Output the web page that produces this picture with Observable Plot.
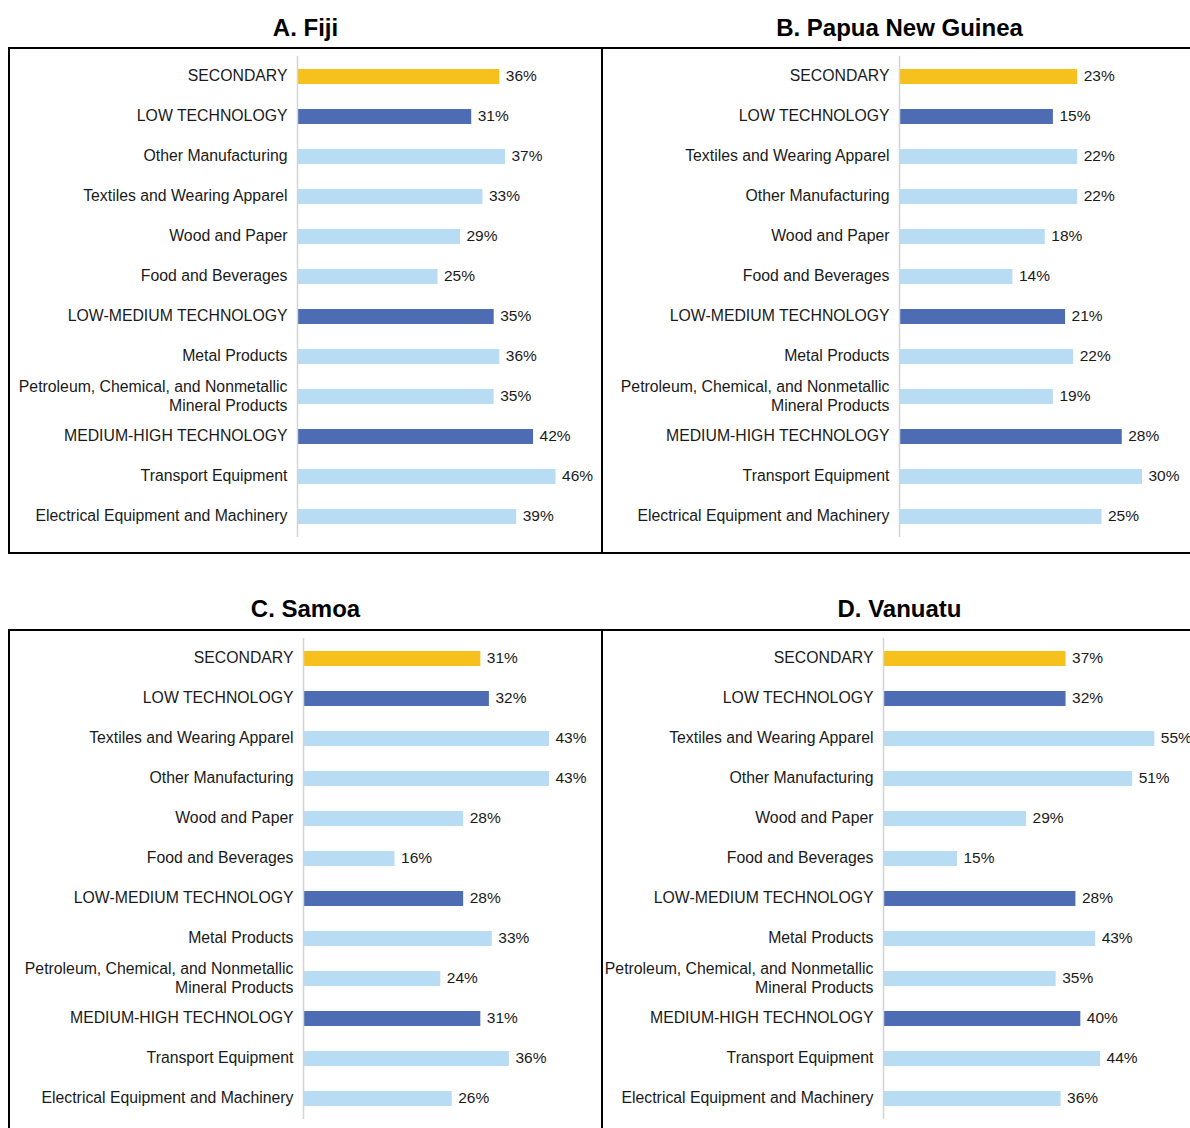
<!DOCTYPE html>
<html>
<head>
<meta charset="utf-8">
<script src="https://cdn.jsdelivr.net/npm/d3@7"></script>
<script src="https://cdn.jsdelivr.net/npm/@observablehq/plot@0.6"></script>
<style>
  html, body { margin: 0; padding: 0; background: #fff; overflow: hidden; }
  #root { position: relative; width: 1190px; height: 1128px; overflow: hidden; background: #fff;
          font-family: "Liberation Sans", Arial, sans-serif; }
  .title { position: absolute; text-align: center; font-weight: bold; font-size: 24px; line-height: 24px; color: #000; }
  .panel { position: absolute; }
  .panel svg { position: absolute; left: 0; top: 0; }
  .frame { position: absolute; left: 0; top: 0; right: 0; bottom: 0; border: 2.5px solid #000; box-sizing: border-box; pointer-events: none; }
</style>
</head>
<body>
<div id="root"></div>
<script>
// ---------- data ----------
const fijiCategories = ["SECONDARY", "LOW TECHNOLOGY", "Other Manufacturing", "Textiles and Wearing Apparel",
  "Wood and Paper", "Food and Beverages", "LOW-MEDIUM TECHNOLOGY", "Metal Products",
  "Petroleum, Chemical, and Nonmetallic\nMineral Products", "MEDIUM-HIGH TECHNOLOGY",
  "Transport Equipment", "Electrical Equipment and Machinery"];
const fijiLabels = [36, 31, 37, 33, 29, 25, 35, 36, 35, 42, 46, 39];
const fijiBars   = [36, 31, 37, 33, 29, 25, 35, 36, 35, 42, 46, 39];

const pngCategories = ["SECONDARY", "LOW TECHNOLOGY", "Textiles and Wearing Apparel", "Other Manufacturing",
  "Wood and Paper", "Food and Beverages", "LOW-MEDIUM TECHNOLOGY", "Metal Products",
  "Petroleum, Chemical, and Nonmetallic\nMineral Products", "MEDIUM-HIGH TECHNOLOGY",
  "Transport Equipment", "Electrical Equipment and Machinery"];
const pngLabels = [23, 15, 22, 22, 18, 14, 21, 22, 19, 28, 30, 25];
const pngBars   = [22, 19, 22, 22, 18, 14, 20.5, 21.5, 19, 27.5, 30, 25];

const samoaCategories = ["SECONDARY", "LOW TECHNOLOGY", "Textiles and Wearing Apparel", "Other Manufacturing",
  "Wood and Paper", "Food and Beverages", "LOW-MEDIUM TECHNOLOGY", "Metal Products",
  "Petroleum, Chemical, and Nonmetallic\nMineral Products", "MEDIUM-HIGH TECHNOLOGY",
  "Transport Equipment", "Electrical Equipment and Machinery"];
const samoaLabels = [31, 32, 43, 43, 28, 16, 28, 33, 24, 31, 36, 26];
const samoaBars   = [31, 32.5, 43, 43, 28, 16, 28, 33, 24, 31, 36, 26];

const vanuatuCategories = ["SECONDARY", "LOW TECHNOLOGY", "Textiles and Wearing Apparel", "Other Manufacturing",
  "Wood and Paper", "Food and Beverages", "LOW-MEDIUM TECHNOLOGY", "Metal Products",
  "Petroleum, Chemical, and Nonmetallic\nMineral Products", "MEDIUM-HIGH TECHNOLOGY",
  "Transport Equipment", "Electrical Equipment and Machinery"];
const vanuatuLabels = [37, 32, 55, 51, 29, 15, 28, 43, 35, 40, 44, 36];
const vanuatuBars   = [37, 37, 55, 50.5, 29, 15, 39, 43, 35, 40, 44, 36];

const titles = ["A. Fiji", "B. Papua New Guinea", "C. Samoa", "D. Vanuatu"];
const kindDomain = ["secondary", "group", "industry"];
const kindColors = ["#F6C11C", "#4D6CB4", "#B8DCF4"];

// ---------- drawing ----------
function kindOf(c) {
  if (c === "SECONDARY") return "secondary";
  if (c.includes("TECHNOLOGY")) return "group";
  return "industry";
}

function panelPlot({cats, labels, bars, width, height, marginLeft, marginRight, max}) {
  const rows = cats.map((c, i) => ({cat: c, label: labels[i], bar: bars[i], kind: kindOf(c)}));
  return Plot.plot({
    width, height, marginLeft, marginRight, marginTop: 9, marginBottom: 17,
    x: {domain: [0, max], axis: null},
    y: {domain: cats, axis: null, paddingInner: 0.63, paddingOuter: 0.315},
    color: {domain: kindDomain, range: kindColors},
    style: {fontFamily: "'Liberation Sans', Arial, sans-serif", background: "transparent", overflow: "visible"},
    marks: [
      Plot.barX(rows, {x: "bar", y: "cat", fill: "kind"}),
      Plot.ruleX([0], {stroke: "#d4d4d4", strokeWidth: 1.5}),
      Plot.text(rows, {y: "cat", text: "cat", frameAnchor: "left", textAnchor: "end", dx: -10, dy: -1.8,
        fontSize: 15.8, lineHeight: 1.2, fill: "#1a1a1a"}),
      Plot.text(rows, {x: "bar", y: "cat", text: d => d.label + "%", textAnchor: "start", dx: 6, dy: -1,
        fontSize: 15.5, fill: "#1a1a1a"})
    ]
  });
}

const root = document.getElementById("root");
const panels = [
  {title: titles[0], left: 8, top: 47, w: 595, h: 507, titleTop: 16,
   cats: fijiCategories, labels: fijiLabels, bars: fijiBars, marginLeft: 289, marginRight: 25, max: 50},
  {title: titles[1], left: 601, top: 47, w: 597, h: 507, titleTop: 16,
   cats: pngCategories, labels: pngLabels, bars: pngBars, marginLeft: 298, marginRight: 15.5, max: 35},
  {title: titles[2], left: 8, top: 629, w: 595, h: 560, titleTop: 597,
   cats: samoaCategories, labels: samoaLabels, bars: samoaBars, marginLeft: 295, marginRight: 14, max: 50, svgH: 507},
  {title: titles[3], left: 601, top: 629, w: 597, h: 560, titleTop: 597,
   cats: vanuatuCategories, labels: vanuatuLabels, bars: vanuatuBars, marginLeft: 282, marginRight: 19, max: 60, svgH: 507}
];

for (const p of panels) {
  const t = document.createElement("div");
  t.className = "title";
  t.style.left = p.left + "px";
  t.style.width = p.w + "px";
  t.style.top = p.titleTop + "px";
  t.textContent = p.title;
  root.appendChild(t);

  const wrap = document.createElement("div");
  wrap.className = "panel";
  wrap.style.left = p.left + "px";
  wrap.style.top = p.top + "px";
  wrap.style.width = p.w + "px";
  wrap.style.height = p.h + "px";
  const svg = panelPlot({cats: p.cats, labels: p.labels, bars: p.bars, width: p.w, height: p.svgH || p.h,
    marginLeft: p.marginLeft, marginRight: p.marginRight, max: p.max});
  wrap.appendChild(svg);
  const frame = document.createElement("div");
  frame.className = "frame";
  wrap.appendChild(frame);
  root.appendChild(wrap);
}
</script>
</body>
</html>
